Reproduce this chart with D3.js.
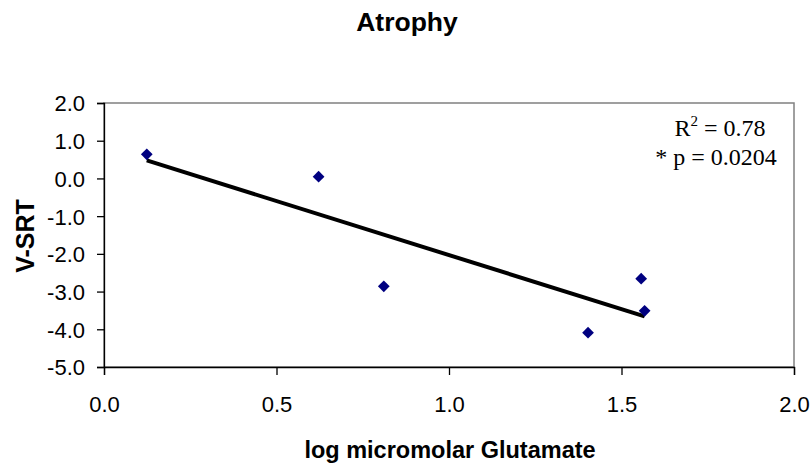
<!DOCTYPE html>
<html>
<head>
<meta charset="utf-8">
<script src="https://cdn.jsdelivr.net/npm/d3@7"></script>
<style>
  body { margin: 0; background: #fff; }
  svg { display: block; }
</style>
</head>
<body>
<div id="chart"></div>
<script>
// data
const logGlutamate = [0.124, 0.622, 0.811, 1.403, 1.557, 1.567]
const vsrt = [0.64, 0.045, -2.86, -4.09, -2.66, -3.51]
const xTicks = [0.0, 0.5, 1.0, 1.5, 2.0]
const yTicks = [2.0, 1.0, 0.0, -1.0, -2.0, -3.0, -4.0, -5.0]
const rSquared = "0.78"
const pLine = "* p = 0.0204"

const width = 812, height = 468
const margin = {top: 103, right: 18, bottom: 101, left: 104}
const sans = 'Arial, "Liberation Sans", sans-serif'

const svg = d3.select('#chart').append('svg')
    .attr('width', width)
    .attr('height', height)

const x = d3.scaleLinear().domain([0, 2]).range([margin.left, width - margin.right])
const y = d3.scaleLinear().domain([-5, 2]).range([height - margin.bottom, margin.top])

// plot area border (grey top/right)
svg.append('rect')
    .attr('x', x(0)).attr('y', y(2))
    .attr('width', x(2) - x(0)).attr('height', y(-5) - y(2))
    .attr('fill', 'none').attr('stroke', '#808080').attr('stroke-width', 1.5)

// axes, excel style hyphen minus
const fmt = v => d3.format('.1f')(v).replace('\u2212', '-')
const yAxis = svg.append('g')
    .attr('transform', `translate(${x(0)},0)`)
    .call(d3.axisLeft(y).tickValues(yTicks).tickFormat(fmt).tickSize(7).tickPadding(12))
const xAxis = svg.append('g')
    .attr('transform', `translate(0,${y(-5)})`)
    .call(d3.axisBottom(x).tickValues(xTicks).tickFormat(fmt).tickSize(8).tickPadding(21))

for (const g of [xAxis, yAxis]) {
    g.select('.domain').attr('stroke', '#000').attr('stroke-width', 1.3)
    g.selectAll('.tick line').attr('stroke', '#000').attr('stroke-width', 1.3)
    g.selectAll('.tick text')
        .attr('fill', '#000')
        .style('font-family', sans)
        .style('font-size', '22px')
}
yAxis.selectAll('.tick text').attr('dy', '0.36em')

// linear trendline (least squares fit of the points)
const mx = d3.mean(logGlutamate), my = d3.mean(vsrt)
const sxy = d3.sum(logGlutamate, (v, i) => (v - mx) * (vsrt[i] - my))
const sxx = d3.sum(logGlutamate, v => (v - mx) * (v - mx))
const slope = sxy / sxx, icpt = my - slope * mx
const xMin = d3.min(logGlutamate), xMax = d3.max(logGlutamate)
svg.append('line')
    .attr('x1', x(xMin)).attr('y1', y(icpt + slope * xMin))
    .attr('x2', x(xMax)).attr('y2', y(icpt + slope * xMax))
    .attr('stroke', '#000').attr('stroke-width', 4)

// points
const diamond = d3.symbol().type(d3.symbolDiamond2).size(88)
svg.append('g').selectAll('path')
    .data(logGlutamate.map((v, i) => [v, vsrt[i]]))
    .join('path')
    .attr('d', diamond)
    .attr('transform', d => `translate(${x(d[0])},${y(d[1])})`)
    .attr('fill', '#000080')

// title and axis labels
svg.append('text')
    .attr('x', 407).attr('y', 31)
    .attr('text-anchor', 'middle')
    .style('font-family', sans)
    .style('font-size', '26.5px').style('font-weight', 'bold')
    .text('Atrophy')

svg.append('text')
    .attr('x', 450).attr('y', 458)
    .attr('text-anchor', 'middle')
    .style('font-family', sans)
    .style('font-size', '23.5px').style('font-weight', 'bold')
    .text('log micromolar Glutamate')

svg.append('text')
    .attr('transform', `translate(34,236) rotate(-90)`)
    .attr('text-anchor', 'middle')
    .style('font-family', sans)
    .style('font-size', '25px').style('font-weight', 'bold')
    .text('V-SRT')

// stats annotation
const ann = svg.append('g')
    .style('font-family', '"Liberation Serif", "Times New Roman", serif')
    .style('font-size', '24px')
    .attr('text-anchor', 'middle')
const r2 = ann.append('text').attr('x', 720).attr('y', 136)
r2.append('tspan').text('R')
r2.append('tspan').attr('dy', -10).style('font-size', '15px').text('2')
r2.append('tspan').attr('dy', 10).text(' = ' + rSquared)
ann.append('text').attr('x', 716).attr('y', 165).text(pLine)
</script>
</body>
</html>
